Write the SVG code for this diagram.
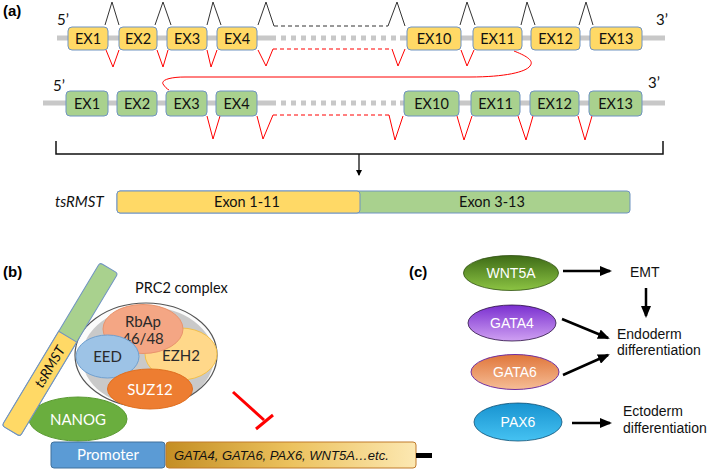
<svg xmlns="http://www.w3.org/2000/svg" width="708" height="470" viewBox="0 0 708 470">
<defs>
<style>
.lbl{font-family:"Liberation Sans",Arial,sans-serif;font-weight:bold;font-size:15px;fill:#000}
.cal{font-family:Lato,"Open Sans",sans-serif;fill:#111}
.ex{font-size:14.5px;text-anchor:middle}
.bb{stroke:#c8c8c8;stroke-width:5;fill:none}
.bbd{stroke:#c8c8c8;stroke-width:5;stroke-dasharray:5 5;fill:none}
.ey{fill:#ffd966;stroke:#6f93c2;stroke-width:1}
.eg{fill:#a9d18e;stroke:#6f93c2;stroke-width:1}
.pk{fill:none;stroke:#333;stroke-width:1}
.pkd{fill:none;stroke:#333;stroke-width:1;stroke-dasharray:4 3}
.rv{fill:none;stroke:#f00;stroke-width:1}
.rvd{fill:none;stroke:#f00;stroke-width:1;stroke-dasharray:4 3}
.ar{font-family:"Liberation Sans",Arial,sans-serif;font-size:14px;fill:#111}
.arw{stroke:#000;stroke-width:2.5;fill:none;marker-end:url(#ah)}
.wt{font-family:"Liberation Sans",Arial,sans-serif;font-size:14px;fill:#fff;text-anchor:middle}
.sub{font-family:Lato,"Open Sans",sans-serif;font-size:15px;text-anchor:middle;fill:#2a2a2a}
</style>
<marker id="ah" markerUnits="userSpaceOnUse" markerWidth="12" markerHeight="10" viewBox="0 0 12 10" refX="10" refY="5" orient="auto"><path d="M0,0 L12,5 L0,10 z" fill="#000"/></marker>
<marker id="ah2" markerUnits="userSpaceOnUse" markerWidth="6" markerHeight="6" viewBox="0 0 6 6" refX="5" refY="3" orient="auto"><path d="M0,0 L6,3 L0,6 z" fill="#000"/></marker>
<linearGradient id="gWnt" x1="0" y1="0" x2="0" y2="1"><stop offset="0" stop-color="#3e6b17"/><stop offset="1" stop-color="#8cc443"/></linearGradient>
<linearGradient id="gG4" x1="0" y1="0" x2="0" y2="1"><stop offset="0" stop-color="#7a2fd0"/><stop offset="1" stop-color="#cfa0f2"/></linearGradient>
<linearGradient id="gG6" x1="0" y1="0" x2="0" y2="1"><stop offset="0" stop-color="#e0763a"/><stop offset="1" stop-color="#f6bd96"/></linearGradient>
<linearGradient id="gPax" x1="0" y1="0" x2="0" y2="1"><stop offset="0" stop-color="#1893d0"/><stop offset="1" stop-color="#45c2f2"/></linearGradient>
<linearGradient id="gGene" x1="0" y1="0" x2="1" y2="0"><stop offset="0" stop-color="#c48e24"/><stop offset="0.5" stop-color="#ecc25e"/><stop offset="1" stop-color="#fce8b2"/></linearGradient>
<clipPath id="cpx"><ellipse cx="146" cy="355" rx="71" ry="52"/></clipPath>
</defs>

<text class="lbl" x="3" y="16">(a)</text>
<text class="lbl" x="3" y="277">(b)</text>
<text class="lbl" x="409" y="277">(c)</text>

<g id="backbones">
<path class="bb" d="M57,38 H276 M400,38 H665"/>
<path class="bbd" d="M281,38 H400"/>
<path class="bb" d="M43,103 H276 M400,103 H665"/>
<path class="bbd" d="M281,103 H400"/>
</g>

<g id="connectors">
<path class="pk" d="M105,25 L112,2 L119,25 M155,25 L163,2 L171,25 M207,25 L213,2 L221,25 M258,25 L266,2 L274,26 M388,26 L397,2 L405,26 M460,25 L467,2 L475,25 M521,25 L527,2 L535,25 M579,25 L586,2 L593,25"/>
<path class="pkd" d="M274,26 H388"/>
<path class="rv" d="M106,50 L113,67 L119,50 M157,50 L163,67 L168,50 M207,50 L211,67 L217,50 M258,50 L266,66 L273,49 M392,49 L398,66 L405,49 M461,50 L467,66 L474,50"/>
<path class="rvd" d="M273,49 H392"/>
<path class="rv" d="M514,51 C524,55 535,60 530,66 C526,72 505,77 470,77 L185,77 C170,77 161,80 163,84 C165,87 167,89 169,90"/>
<path class="rv" d="M207,116 L213,139 L220,116 M257,116 L263,139 L273,115 M389,115 L395,140 L403,116 M457,116 L464,140 L472,116 M518,116 L526,140 L533,116 M578,116 L585,140 L592,116"/>
<path class="rvd" d="M273,115 H389"/>
<path d="M56,141 V154 H663 V141" fill="none" stroke="#111" stroke-width="1.5"/>
<path d="M359,154 V175" fill="none" stroke="#111" stroke-width="1.3" marker-end="url(#ah2)"/>
<path d="M233,392 L264,420 M256,429 L273,415" fill="none" stroke="#f00" stroke-width="3"/>
<path class="arw" d="M563,271 H610"/>
<path class="arw" d="M646,288 V316"/>
<path class="arw" d="M562,319 L608,338"/>
<path class="arw" d="M563,375 L608,355"/>
<path class="arw" d="M572,423 H610"/>
</g>

<g id="r1ex1"><rect class="ey" x="68" y="27" width="40" height="23" rx="4"/><text class="cal ex" x="88" y="43.5">EX1</text></g>
<g id="r1ex2"><rect class="ey" x="119" y="27" width="38" height="23" rx="4"/><text class="cal ex" x="138" y="43.5">EX2</text></g>
<g id="r1ex3"><rect class="ey" x="167" y="27" width="40" height="23" rx="4"/><text class="cal ex" x="187" y="43.5">EX3</text></g>
<g id="r1ex4"><rect class="ey" x="217" y="27" width="40" height="23" rx="4"/><text class="cal ex" x="237" y="43.5">EX4</text></g>
<g id="r1ex10"><rect class="ey" x="407" y="27" width="54" height="23" rx="4"/><text class="cal ex" x="434" y="43.5">EX10</text></g>
<g id="r1ex11"><rect class="ey" x="473" y="27" width="49" height="23" rx="4"/><text class="cal ex" x="497.5" y="43.5">EX11</text></g>
<g id="r1ex12"><rect class="ey" x="531" y="27" width="49" height="23" rx="4"/><text class="cal ex" x="555.5" y="43.5">EX12</text></g>
<g id="r1ex13"><rect class="ey" x="590" y="27" width="52" height="23" rx="4"/><text class="cal ex" x="616" y="43.5">EX13</text></g>
<text class="cal" x="57" y="25" font-size="15">5’</text>
<text class="cal" x="656" y="25" font-size="15">3’</text>

<g id="r2ex1"><rect class="eg" x="66" y="91" width="42" height="25" rx="4"/><text class="cal ex" x="87" y="108.5">EX1</text></g>
<g id="r2ex2"><rect class="eg" x="117" y="91" width="40" height="25" rx="4"/><text class="cal ex" x="137" y="108.5">EX2</text></g>
<g id="r2ex3"><rect class="eg" x="166" y="91" width="41" height="25" rx="4"/><text class="cal ex" x="186.5" y="108.5">EX3</text></g>
<g id="r2ex4"><rect class="eg" x="216" y="91" width="41" height="25" rx="4"/><text class="cal ex" x="236.5" y="108.5">EX4</text></g>
<g id="r2ex10"><rect class="eg" x="404" y="91" width="55" height="25" rx="4"/><text class="cal ex" x="431.5" y="108.5">EX10</text></g>
<g id="r2ex11"><rect class="eg" x="471" y="91" width="49" height="25" rx="4"/><text class="cal ex" x="495.5" y="108.5">EX11</text></g>
<g id="r2ex12"><rect class="eg" x="530" y="91" width="49" height="25" rx="4"/><text class="cal ex" x="554.5" y="108.5">EX12</text></g>
<g id="r2ex13"><rect class="eg" x="589" y="91" width="53" height="25" rx="4"/><text class="cal ex" x="615.5" y="108.5">EX13</text></g>
<text class="cal" x="53" y="91" font-size="15">5’</text>
<text class="cal" x="648" y="88" font-size="15">3’</text>

<g id="tsrmst-product">
<text class="cal" x="55" y="207" font-size="15" font-style="italic">tsRMST</text>
<rect class="eg" x="117" y="191" width="513" height="22" rx="3"/>
<rect class="ey" x="117" y="191" width="243" height="22" rx="3"/>
<text class="cal ex" x="247" y="207">Exon 1-11</text>
<text class="cal ex" x="492" y="207">Exon 3-13</text>
</g>

<g id="prc2">
<text class="cal" x="135" y="293" font-size="14.5">PRC2 complex</text>
<ellipse cx="146" cy="355" rx="71" ry="52" fill="#fbfbfb"/>
<ellipse cx="148" cy="357" rx="66" ry="50" fill="#c9c9c9" clip-path="url(#cpx)"/>
<ellipse cx="146" cy="355" rx="71" ry="52" fill="none" stroke="#555" stroke-width="1.2"/>
</g>
<g id="ezh2"><ellipse cx="181" cy="354" rx="36" ry="26" fill="#ffd88a" stroke="#f2c04a"/><text class="sub" x="181" y="361">EZH2</text></g>
<g id="rbap"><ellipse cx="143" cy="329" rx="40" ry="24.5" fill="#f4a684" stroke="#e9936c"/><text class="sub" x="143" y="327">RbAp</text><text class="sub" x="143" y="344">46/48</text></g>
<g id="eed"><ellipse cx="107.5" cy="356.5" rx="31.5" ry="21.5" fill="#9dc3e6" stroke="#6fa0d0"/><text class="sub" x="107.5" y="362">EED</text></g>
<g id="suz12"><ellipse cx="150" cy="389" rx="42.5" ry="20" fill="#ed7d31" stroke="#e06f20"/><text class="sub" x="150" y="395" style="fill:#fff">SUZ12</text></g>
<g id="nanog"><ellipse cx="78" cy="419" rx="49" ry="22" fill="#6aae3e" stroke="#5a9a32"/><text class="sub" x="78" y="425" style="fill:#fff">NANOG</text></g>
<g id="tsrmst-rna" transform="translate(60,349.5) rotate(-59)">
<rect x="-95" y="-10.5" width="190" height="21" rx="3" fill="#a9d18e" stroke="#6f93c2"/>
<path d="M-92,-10.5 H15 V10.5 H-92 A3,3 0 0 1 -95,7.5 V-7.5 A3,3 0 0 1 -92,-10.5 z" fill="#ffd966" stroke="#6f93c2"/>
<text class="cal" x="-20" y="5" font-size="14" font-style="italic" text-anchor="middle">tsRMST</text>
</g>
<g id="promoter"><rect x="51" y="442" width="114" height="26" rx="3" fill="#5b9bd5" stroke="#41719c"/><text class="sub" x="108" y="460" style="fill:#fff">Promoter</text></g>
<g id="genes"><rect x="166" y="442" width="250" height="26" rx="3" fill="url(#gGene)" stroke="#c07a2a"/><rect x="416" y="453" width="16" height="5" fill="#000"/><text x="174" y="460" font-family="'Liberation Sans',Arial,sans-serif" font-size="13" font-style="italic" fill="#111">GATA4, GATA6, PAX6, WNT5A…etc.</text></g>

<g id="wnt5a"><ellipse cx="511" cy="273" rx="47.5" ry="17.5" fill="url(#gWnt)" stroke="#2f4f10" stroke-width="0.8"/><text class="wt" x="511" y="278">WNT5A</text></g>
<g id="gata4"><ellipse cx="512" cy="323" rx="44" ry="18" fill="url(#gG4)" stroke="#2a1040" stroke-width="0.8"/><text class="wt" x="512" y="328">GATA4</text></g>
<g id="gata6"><ellipse cx="515" cy="372" rx="44" ry="17.5" fill="url(#gG6)" stroke="#7030a0" stroke-width="1"/><text class="wt" x="515" y="377">GATA6</text></g>
<g id="pax6"><ellipse cx="518" cy="422" rx="44" ry="19" fill="url(#gPax)" stroke="#0d4f73" stroke-width="0.8"/><text class="wt" x="518" y="427">PAX6</text></g>
<g id="emt"><text class="ar" x="630" y="277">EMT</text></g>
<g id="endoderm"><text class="ar" x="617" y="339">Endoderm</text><text class="ar" x="617" y="355">differentiation</text></g>
<g id="ectoderm"><text class="ar" x="623" y="416">Ectoderm</text><text class="ar" x="623" y="433">differentiation</text></g>
</svg>
